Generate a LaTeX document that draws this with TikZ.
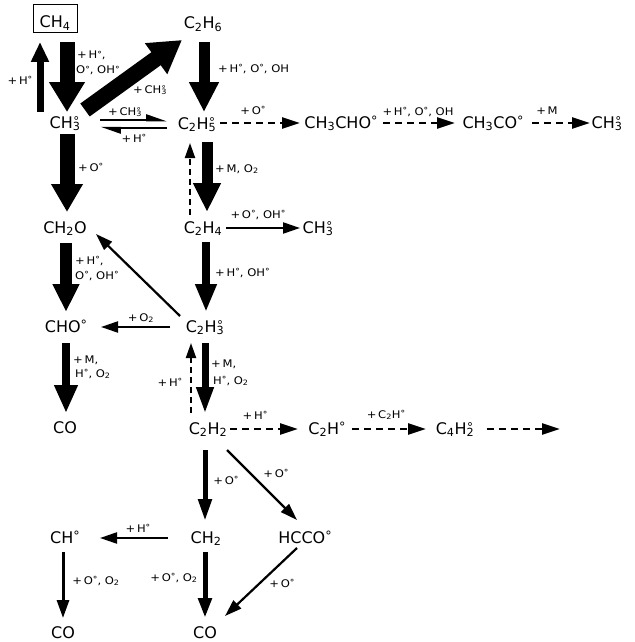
\documentclass[tikz,border=0pt]{standalone}
\usepackage{fontspec}
\usepackage{graphicx}
\setmainfont{DejaVu Sans}
\newfontfamily\labfont{DejaVu Sans}[FakeStretch=1.1]
\usetikzlibrary{arrows.meta}
\newcommand\rd[1]{\rlap{\hspace{0.04em}\raisebox{0.15em}{\scalebox{0.75}{°}}}\textsubscript{#1}}
\newcommand\dg{\raisebox{0.15em}{\scalebox{0.8}{°}}}
\newcommand\sbs[1]{\textsubscript{#1}}
\begin{document}
\begin{tikzpicture}[x=1pt,y=-1pt,
 chem/.style={font=\fontsize{16}{19}\selectfont, inner sep=0pt, anchor=base},
 lab/.style={font=\labfont\fontsize{10.5}{12}\selectfont, inner sep=0pt, anchor=base},
 labw/.style={lab, anchor=base west},
 fat/.style n args={3}{line width=#1, -{Triangle[width=#2,length=#3]}},
 thin/.style={line width=2.2pt, -{Triangle[width=11pt,length=17pt]}},
 dsh/.style={line width=2.5pt, dash pattern=on 7pt off 5pt, -{Triangle[width=11pt,length=18pt]}},
 dshs/.style={line width=2pt, dash pattern=on 6pt off 4pt, -{Triangle[width=10pt,length=15pt]}},
 harp/.style={line width=2.5pt, -{Triangle[left,width=11pt,length=17pt]}}]
\fill[white] (0,0) rectangle (634,642);
\useasboundingbox (0,0) rectangle (634,642);
% species
\node[chem,draw,line width=1pt,minimum width=44pt,text height=21pt,text depth=3pt,inner ysep=2pt] (ch4) at (55,28) {CH\sbs{4}};
\node[chem] (c2h6) at (203,29) {C\sbs{2}H\sbs{6}};
\node[chem] (ch3) at (65,128) {CH\rd{3}};
\node[chem] (c2h5) at (197,129) {C\sbs{2}H\rd{5}};
\node[chem] (ch3cho) at (341,128) {CH\sbs{3}CHO\dg};
\node[chem] (ch3co) at (493,128) {CH\sbs{3}CO\dg};
\node[chem] (ch3b) at (607,128) {CH\rd{3}};
\node[chem] (ch2o) at (65,233) {CH\sbs{2}O};
\node[chem] (c2h4) at (203,233) {C\sbs{2}H\sbs{4}};
\node[chem] (ch3c) at (318,233) {CH\rd{3}};
\node[chem] (cho) at (66,332) {CHO\dg};
\node[chem] (c2h3) at (205,332) {C\sbs{2}H\rd{3}};
\node[chem] (co1) at (65,433) {CO};
\node[chem] (c2h2) at (208,434) {C\sbs{2}H\sbs{2}};
\node[chem] (c2h) at (327,434) {C\sbs{2}H\dg};
\node[chem] (c4h2) at (455,434) {C\sbs{4}H\rd{2}};
\node[chem] (ch) at (65,543) {CH\dg};
\node[chem] (ch2) at (206,543) {CH\sbs{2}};
\node[chem] (hcco) at (305,543) {HCCO\dg};
\node[chem] (co2) at (63,638) {CO};
\node[chem] (co3) at (205,638) {CO};
\coordinate (c4end) at (560,429);
% arrows
\draw[fat={15pt}{34pt}{30pt}] ([xshift=12pt,yshift=-14pt]ch4.base) -- ([xshift=2pt,yshift=16pt]ch3.base);
\draw[fat={7pt}{17pt}{20pt}] ([xshift=-25pt,yshift=16pt]ch3.base) -- ([xshift=-15pt,yshift=-14pt]ch4.base);
\draw[fat={16pt}{36pt}{32pt}] ([xshift=20pt,yshift=18pt]ch3.base) -- ([xshift=-21pt,yshift=-11pt]c2h6.base);
\draw[fat={11pt}{28pt}{30pt}] ([xshift=1pt,yshift=-13pt]c2h6.base) -- ([xshift=7pt,yshift=17pt]c2h5.base);
\draw[harp] ([xshift=35pt,yshift=8pt]ch3.base) -- ([xshift=-30pt,yshift=9pt]c2h5.base);
\draw[harp] ([xshift=-30pt,yshift=1pt]c2h5.base) -- ([xshift=35pt,yshift=0pt]ch3.base);
\draw[fat={15pt}{30pt}{28pt}] ([xshift=2pt,yshift=-6pt]ch3.base) -- ([xshift=2pt,yshift=21pt]ch2o.base);
\draw[dsh] ([xshift=23pt,yshift=6pt]c2h5.base) -- ([xshift=-41pt,yshift=5pt]ch3cho.base);
\draw[dsh] ([xshift=42pt,yshift=5pt]ch3cho.base) -- ([xshift=-38pt,yshift=5pt]ch3co.base);
\draw[dsh] ([xshift=39pt,yshift=5pt]ch3co.base) -- ([xshift=-17pt,yshift=5pt]ch3b.base);
\draw[fat={11pt}{26pt}{29pt}] ([xshift=10pt,yshift=-13pt]c2h5.base) -- ([xshift=4pt,yshift=21pt]c2h4.base);
\draw[dshs] ([xshift=-13pt,yshift=18pt]c2h4.base) -- ([xshift=-7pt,yshift=-14pt]c2h5.base);
\draw[thin] ([xshift=23pt,yshift=5pt]c2h4.base) -- ([xshift=-18pt,yshift=5pt]ch3c.base);
\draw[fat={8pt}{20pt}{28pt}] ([xshift=3pt,yshift=-9pt]c2h4.base) -- ([xshift=1pt,yshift=20pt]c2h3.base);
\draw[thin] ([xshift=-25pt,yshift=16pt]c2h3.base) -- ([xshift=31pt,yshift=-1pt]ch2o.base);
\draw[fat={12pt}{25pt}{28pt}] ([xshift=1pt,yshift=-10pt]ch2o.base) -- ([xshift=0pt,yshift=20pt]cho.base);
\draw[thin] ([xshift=-35pt,yshift=5pt]c2h3.base) -- ([xshift=35pt,yshift=5pt]cho.base);
\draw[fat={8pt}{22pt}{28pt}] ([yshift=-11pt]cho.base) -- ([xshift=1pt,yshift=20pt]co1.base);
\draw[fat={7pt}{16pt}{27pt}] ([yshift=-11pt]c2h3.base) -- ([xshift=-3pt,yshift=20pt]c2h2.base);
\draw[dshs] ([xshift=-17pt,yshift=21pt]c2h2.base) -- ([xshift=-14pt,yshift=-11pt]c2h3.base);
\draw[dsh] ([xshift=22pt,yshift=5pt]c2h2.base) -- ([xshift=-29pt,yshift=5pt]c2h.base);
\draw[dsh] ([xshift=25pt,yshift=5pt]c2h.base) -- ([xshift=-29pt,yshift=5pt]c4h2.base);
\draw[dsh] ([xshift=32pt,yshift=5pt]c4h2.base) -- (c4end);
\draw[fat={5pt}{13pt}{22pt}] ([xshift=-3pt,yshift=-16pt]c2h2.base) -- ([xshift=-1pt,yshift=22pt]ch2.base);
\draw[thin] ([xshift=19pt,yshift=-16pt]c2h2.base) -- ([xshift=-8pt,yshift=23pt]hcco.base);
\draw[thin] ([xshift=-38pt,yshift=5pt]ch2.base) -- ([xshift=35pt,yshift=5pt]ch.base);
\draw[fat={3pt}{12pt}{18pt}] ([xshift=-2pt,yshift=-9pt]ch.base) -- ([yshift=20pt]co2.base);
\draw[fat={5pt}{13pt}{20pt}] ([xshift=-1pt,yshift=-9pt]ch2.base) -- ([yshift=20pt]co3.base);
\draw[thin] ([xshift=-8pt,yshift=-5pt]hcco.base) -- ([xshift=20pt,yshift=22pt]co3.base);
% labels
\node[labw] (l1a) at (77,59) {+\,H\dg,};
\node[labw] (l1b) at (76,74) {O\dg, OH\dg};
\node[lab] (l2) at (20,84) {+\,H\dg};
\node[lab] (l3) at (150,93) {+\,CH\rd{3}};
\node[lab] (l4) at (125,115) {+\,CH\rd{3}};
\node[lab] (l5) at (134,142) {+\,H\dg};
\node[labw] (l6) at (218,72) {+\,H\dg, O\dg, OH};
\node[lab] (l7) at (253,114) {+\,O\dg};
\node[lab] (l8) at (418,115) {+\,H\dg, O\dg, OH};
\node[lab] (l9) at (547,114) {+\,M};
\node[labw] (l10) at (78,171) {+\,O\dg};
\node[labw] (l11) at (215,172) {+\,M, O\sbs{2}};
\node[lab] (l12) at (258,218) {+\,O\dg, OH\dg};
\node[labw] (l13) at (215,276) {+\,H\dg, OH\dg};
\node[labw] (l14a) at (75,264) {+\,H\dg,};
\node[labw] (l14b) at (75,279) {O\dg, OH\dg};
\node[lab] (l15) at (141,321) {+\,O\sbs{2}};
\node[labw] (l16a) at (73,363) {+\,M,};
\node[labw] (l16b) at (75,377) {H\dg, O\sbs{2}};
\node[labw] (l17a) at (211,367) {+\,M,};
\node[labw] (l17b) at (213,384) {H\dg, O\sbs{2}};
\node[lab] (l18) at (170,386) {+\,H\dg};
\node[lab] (l19) at (255,419) {+\,H\dg};
\node[lab] (l20) at (386,418) {+\,C\sbs{2}H\dg};
\node[lab] (l21) at (226,484) {+\,O\dg};
\node[lab] (l22) at (276,477) {+\,O\dg};
\node[lab] (l23) at (138,532) {+\,H\dg};
\node[lab] (l24) at (96,584) {+\,O\dg, O\sbs{2}};
\node[lab] (l25) at (174,581) {+\,O\dg, O\sbs{2}};
\node[lab] (l26) at (282,587) {+\,O\dg};
\end{tikzpicture}
\end{document}
